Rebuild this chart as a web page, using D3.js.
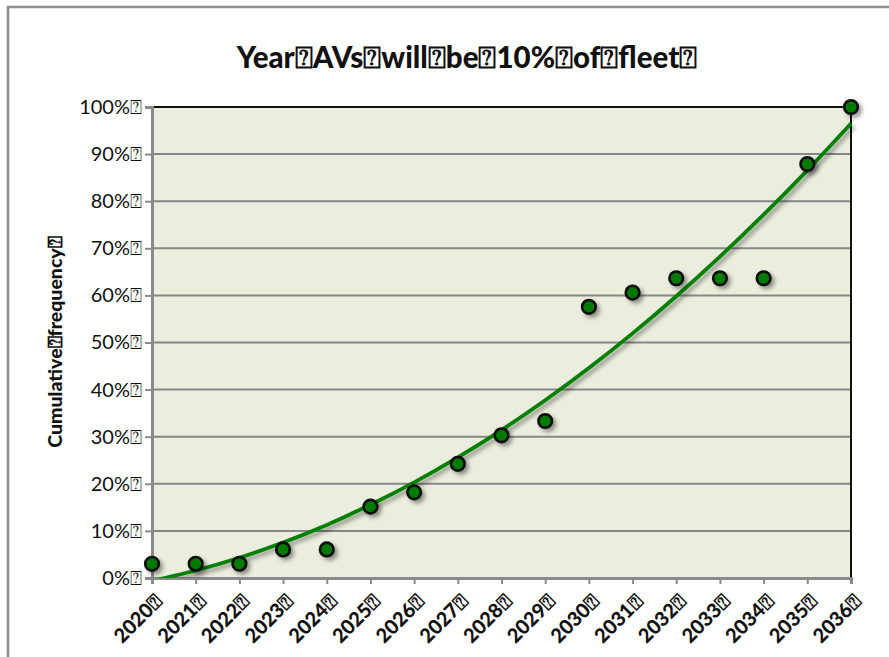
<!DOCTYPE html>
<html><head><meta charset="utf-8">
<script src="https://cdn.jsdelivr.net/npm/d3@7"></script>
<style>html,body{margin:0;padding:0;background:#fff;}svg{display:block;}</style>
</head><body>
<svg id="c" width="889" height="657"></svg>
<script>
const titleText = "Year⍰AVs⍰will⍰be⍰10%⍰of⍰fleet⍰";
const yAxisTitle = "Cumulative⍰frequency⍰";
const years = [2020,2021,2022,2023,2024,2025,2026,2027,2028,2029,2030,2031,2032,2033,2034,2035,2036];
const cumulative = [3.03,3.03,3.03,6.06,6.06,15.15,18.18,24.24,30.30,33.33,57.58,60.61,63.64,63.64,63.64,87.88,100];
const trend = [-0.59,1.59,4.30,7.53,11.27,15.54,20.30,25.60,31.41,37.74,44.58,51.94,59.82,68.22,77.13,86.55,96.49];
const yTicks = [0,10,20,30,40,50,60,70,80,90,100];

const svg = d3.select("#c");
const m = {left:152, right:851, top:107, bottom:578};
const x = d3.scaleLinear().domain([2020,2036]).range([m.left,m.right]);
const y = d3.scaleLinear().domain([0,100]).range([m.bottom,m.top]);
const FONT = "Lato, 'Open Sans', sans-serif";

const defs = svg.append("defs");
const f = defs.append("filter").attr("id","sh").attr("x","-50%").attr("y","-50%").attr("width","200%").attr("height","200%");
f.append("feDropShadow").attr("dx",3).attr("dy",3).attr("stdDeviation",2.2).attr("flood-color","#000").attr("flood-opacity",0.4);
defs.append("clipPath").attr("id","clip").append("rect")
  .attr("x",m.left).attr("y",m.top-10).attr("width",m.right-m.left+10).attr("height",m.bottom-m.top+10);

// outer border
svg.append("rect").attr("x",8).attr("y",7).attr("width",900).attr("height",700)
  .attr("fill","none").attr("stroke","#8c8c8c").attr("stroke-width",2.5);

// plot background
svg.append("rect").attr("x",m.left).attr("y",m.top).attr("width",m.right-m.left).attr("height",m.bottom-m.top)
  .attr("fill","#ebeede");

// gridlines
svg.append("g").selectAll("line").data(yTicks.filter(d=>d>0 && d<100)).join("line")
  .attr("x1",m.left).attr("x2",m.right).attr("y1",d=>y(d)).attr("y2",d=>y(d))
  .attr("stroke","#878787").attr("stroke-width",2);

// top and right border
svg.append("path").attr("d",`M${m.left},${y(100)}H${m.right}V${m.bottom}`)
  .attr("fill","none").attr("stroke","#111").attr("stroke-width",2);

// y axis
const yAxis = d3.axisLeft(y).tickValues(yTicks).tickSize(7).tickPadding(3).tickFormat(d=>d+"%⍰");
const gy = svg.append("g").attr("transform",`translate(${m.left},0)`).call(yAxis);
gy.select(".domain").attr("stroke","#8a8a8a").attr("stroke-width",3);
gy.selectAll(".tick line").attr("stroke","#8a8a8a").attr("stroke-width",2);
gy.selectAll(".tick text").attr("font-family",FONT).attr("font-size",20).attr("fill","#111");

// x axis
const xAxis = d3.axisBottom(x).tickValues(years).tickSize(6).tickFormat(d=>d+"⍰");
const gx = svg.append("g").attr("transform",`translate(0,${m.bottom})`).call(xAxis);
gx.select(".domain").attr("stroke","#8a8a8a").attr("stroke-width",3);
gx.selectAll(".tick line").attr("stroke","#8a8a8a").attr("stroke-width",2);
gx.selectAll(".tick text")
  .attr("font-family",FONT).attr("font-size",20).attr("font-weight","900").attr("fill","#111")
  .attr("text-anchor","end").attr("dy",null).attr("y",0)
  .attr("transform","translate(11,25) rotate(-45)");

// trendline
const line = d3.line().x((d,i)=>x(years[i])).y(d=>y(d)).curve(d3.curveCatmullRom);
svg.append("path").datum(trend).attr("d",line).attr("clip-path","url(#clip)")
  .attr("fill","none").attr("stroke","#008000").attr("stroke-width",3.8).attr("filter","url(#sh)");

// points
svg.append("g").attr("filter","url(#sh)").selectAll("circle").data(cumulative).join("circle")
  .attr("cx",(d,i)=>x(years[i])).attr("cy",d=>y(d)).attr("r",6.8)
  .attr("fill","#007a00").attr("stroke","#0a0a0a").attr("stroke-width",2.6);

// title
svg.append("text").attr("x",467).attr("y",68).attr("text-anchor","middle")
  .attr("font-family",FONT).attr("font-weight","900").attr("font-size",29.5).attr("fill","#111")
  .text(titleText);

// y axis title
svg.append("text").attr("transform","translate(62,342) rotate(-90)").attr("text-anchor","middle")
  .attr("font-family",FONT).attr("font-weight","900").attr("font-size",19.5).attr("fill","#111")
  .text(yAxisTitle);
</script>
</body></html>
